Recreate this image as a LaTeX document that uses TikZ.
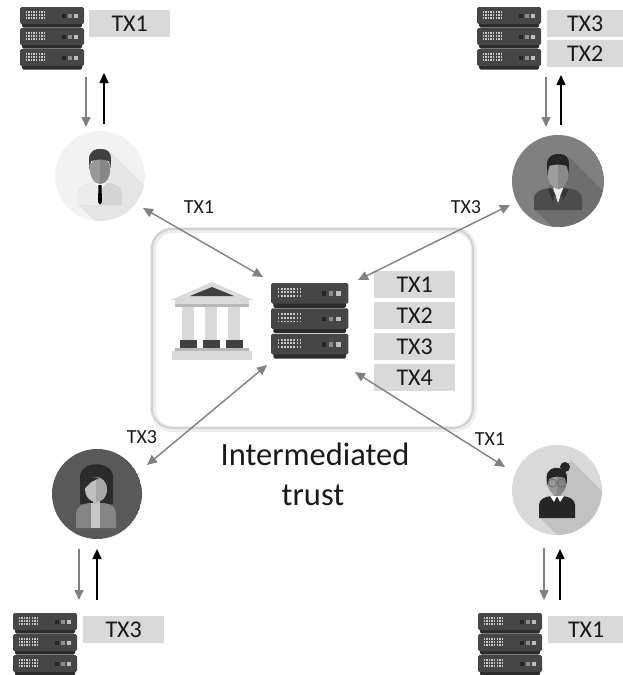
\documentclass[tikz,border=0pt]{standalone}
\usepackage{fontspec}
\setmainfont{Carlito}
\usetikzlibrary{arrows.meta}

\definecolor{boxgray}{HTML}{D9D9D9}
\definecolor{arrgray}{HTML}{808080}
\definecolor{txtcol}{HTML}{1A1A1A}
\definecolor{srvbody}{HTML}{464646}
\definecolor{srvbase}{HTML}{2C2C2C}
\definecolor{srvdot}{HTML}{C8C8C8}
\definecolor{bankLight}{HTML}{D9D9D9}
\definecolor{bankMid}{HTML}{B8B8B8}
\definecolor{bankDark}{HTML}{404040}

\tikzset{
  txbox/.style={fill=boxgray, text=txtcol, minimum width=81pt, minimum height=27pt,
    inner sep=0pt, anchor=north west, font=\fontsize{24}{24}\selectfont},
  txlabel/.style={text=txtcol, inner sep=0pt, font=\fontsize{20}{20}\selectfont},
  bigtext/.style={text=txtcol, inner sep=0pt, anchor=base, font=\fontsize{32.5}{32}\selectfont},
  linkarrow/.style={draw=arrgray, line width=1.4pt,
    {Triangle[length=10pt,width=9pt]}-{Triangle[length=10pt,width=9pt]}},
  downarrow/.style={draw=arrgray, line width=1.4pt, -{Triangle[length=10pt,width=9pt]}},
  uparrow/.style={draw=black, line width=1.4pt, -{Triangle[length=10pt,width=9pt]}},
  server/.pic={
    \foreach \t in {0,21,42}{
      \fill[srvbase, rounded corners=1.5pt] (2,\t+14) rectangle (62,\t+20.5);
      \fill[srvbody, rounded corners=1.5pt] (0,\t) rectangle (64,\t+17);
      \foreach \c in {0,...,7}{
        \foreach \r in {0,1,2}{
          \fill[srvdot] (5.5+\c*2.6,\t+4+\r*3) rectangle ++(1.5,1.6);
        }
      }
      \fill[black!85] (42,\t+7) rectangle ++(3.5,3.5);
      \fill[black!45] (48,\t+7) rectangle ++(3.5,3.5);
      \fill[black!25] (54,\t+7) rectangle ++(3.5,3.5);
    }
  }
}

\begin{document}
\begin{tikzpicture}[x=1pt,y=-1pt]
\useasboundingbox (0,0) rectangle (623,675);

% ---------- central trust box ----------
\draw[line width=6pt, black!7, rounded corners=20pt] (153,230) rectangle (474,429);
\draw[line width=2pt, black!18, rounded corners=20pt] (152,229) rectangle (473,428);

% bank building
\fill[bankLight] (171,300) -- (212,282) -- (253,300) -- cycle;
\fill[bankDark] (190,296) -- (212,287) -- (234,296) -- cycle;
\fill[bankLight] (175,300) rectangle (249,304);
\fill[bankMid] (175,304) rectangle (249,307);
\fill[bankLight] (182,307) rectangle (194,340);
\fill[bankLight] (205,307) rectangle (217,340);
\fill[bankLight] (228,307) rectangle (240,340);
\fill[bankDark] (180,340) rectangle (197,348);
\fill[bankDark] (203,340) rectangle (220,348);
\fill[bankDark] (226,340) rectangle (243,348);
\fill[bankMid] (175,348) rectangle (249,351);
\fill[bankLight] (172,351) rectangle (252,360);

% central ledger server and its transactions
\pic[scale=1.21] at (271,283) {server};
\node[txbox] (c1) at (374,271) {TX1};
\node[txbox] (c2) at (374,302) {TX2};
\node[txbox] (c3) at (374,333) {TX3};
\node[txbox] (c4) at (374,364) {TX4};

\node[bigtext] (trust1) at (315,465) {Intermediated};
\node[bigtext] (trust2) at (313,505) {trust};

% ---------- participant ledgers ----------
\pic at (20,7) {server};
\node[txbox] (tl1) at (89,10) {TX1};

\pic at (477,7) {server};
\node[txbox, minimum width=76pt] (tr1) at (547,10) {TX3};
\node[txbox, minimum width=76pt] (tr2) at (547,40) {TX2};

\pic at (13,613) {server};
\node[txbox] (bl1) at (83,616) {TX3};

\pic at (478,613) {server};
\node[txbox, minimum width=76pt] (br1) at (548,616) {TX1};

% ---------- participants ----------
% top left: man, light
\begin{scope}[shift={(100,176)}]
  \clip (0,0) circle (45pt);
  \fill[black!5] (0,0) circle (45pt);
  \fill[black!10] (11,-24) -- (91,56) -- (58,108) -- (-22,28) -- cycle;
  \fill[black!17] (-22,29) -- (-22,17) .. controls (-22,11) and (-16,8) .. (-8,7)
        -- (8,7) .. controls (16,8) and (22,11) .. (22,17) -- (22,29) -- cycle;
  \fill[black!8] (-22,29) -- (-22,17) .. controls (-22,11) and (-16,8) .. (-8,7) -- (0,7) -- (0,29) -- cycle;
  \fill[black!45] (-4,2) rectangle (4,8);
  \fill[white] (-6,7) -- (0,7) -- (-2,12) -- cycle;
  \fill[white] (6,7) -- (0,7) -- (2,12) -- cycle;
  \fill[black] (-1.5,9) -- (1.5,9) -- (2,26) -- (0,28.5) -- (-2,26) -- cycle;
  \fill[black!40] (0,-6) ellipse (10pt and 14pt);
  \begin{scope}\clip (0,-25) rectangle (12,10);
    \fill[black!47] (0,-6) ellipse (10pt and 14pt);
  \end{scope}
  \fill[black!75] (-10.5,-6) -- (-11,-17) .. controls (-11,-25) and (-4,-28) .. (2,-27)
        .. controls (8,-27) and (11.5,-23) .. (11,-16) -- (10.5,-8) -- (9,-15)
        .. controls (4,-17) and (-4,-17) .. (-9,-15) -- cycle;
\end{scope}

% top right: man, dark
\begin{scope}[shift={(558,181)}]
  \clip (0,0) circle (46pt);
  \fill[black!50] (0,0) circle (46pt);
  \fill[black!57] (11,-24) -- (91,56) -- (58,108) -- (-24,28) -- cycle;
  \fill[black!70] (-24,29) -- (-24,17) .. controls (-24,11) and (-17,8) .. (-8,7)
        -- (8,7) .. controls (17,8) and (24,11) .. (24,17) -- (24,29) -- cycle;
  \fill[black!40] (-4,2) rectangle (4,8);
  \fill[black!8] (-5,7) -- (5,7) -- (0,22) -- cycle;
  \fill[black!80] (-7,7) -- (-2,15) -- (-4,14) -- (-5,20) -- (-10,9) -- cycle;
  \fill[black!80] (7,7) -- (2,15) -- (4,14) -- (5,20) -- (10,9) -- cycle;
  \fill[black!38] (0,-6) ellipse (10pt and 14pt);
  \begin{scope}\clip (0,-25) rectangle (12,10);
    \fill[black!46] (0,-6) ellipse (10pt and 14pt);
  \end{scope}
  \fill[black!85] (-10.5,-6) -- (-11,-17) .. controls (-11,-25) and (-4,-28) .. (2,-27)
        .. controls (8,-27) and (11.5,-23) .. (11,-16) -- (10.5,-8) -- (9,-15)
        .. controls (4,-17) and (-4,-17) .. (-9,-15) -- cycle;
\end{scope}

% bottom left: woman, dark
\begin{scope}[shift={(97,494)}]
  \clip (0,0) circle (45pt);
  \fill[black!65] (0,0) circle (45pt);
  \fill[black!83] (-17,10) -- (-17,-17) .. controls (-17,-34) and (16,-34) .. (16,-17) -- (16,10) -- cycle;
  \fill[black!48] (-21,34) -- (-21,20) .. controls (-21,13) and (-15,10) .. (-8,9)
        -- (7,9) .. controls (14,10) and (19,13) .. (19,20) -- (19,34) -- cycle;
  \fill[black!22] (-6,9) rectangle (3,34);
  \fill[black!25] (-4,2) rectangle (3,10);
  \fill[black!25] (-1,-4.5) ellipse (11pt and 12.5pt);
  \begin{scope}\clip (-1,-20) rectangle (12,10);
    \fill[black!35] (-1,-4.5) ellipse (11pt and 12.5pt);
  \end{scope}
  \fill[black!83] (-12,-6) .. controls (-12,-16) and (-6,-18) .. (2,-16) -- (-6,-12) -- cycle;
\end{scope}

% bottom right: woman, light
\begin{scope}[shift={(557,490)}]
  \clip (0,0) circle (45pt);
  \fill[black!15] (0,0) circle (45pt);
  \fill[black!24] (14,-30) -- (94,50) -- (60,104) -- (-18,27) -- cycle;
  \fill[black!85] (-18,28) -- (-18,15) .. controls (-18,9) and (-12,7) .. (-6,6)
        -- (6,6) .. controls (12,7) and (18,9) .. (18,15) -- (18,28) -- cycle;
  \fill[black!45] (-3.5,0) rectangle (3.5,7);
  \fill[white] (-7,6) -- (0,6) -- (-3,12) -- cycle;
  \fill[white] (7,6) -- (0,6) -- (3,12) -- cycle;
  \fill[black!85] (8,-23) circle (5pt);
  \fill[black!40] (0,-7.5) ellipse (9.5pt and 12.5pt);
  \begin{scope}\clip (0,-22) rectangle (12,8);
    \fill[black!48] (0,-7.5) ellipse (9.5pt and 12.5pt);
  \end{scope}
  \fill[black!85] (-10,-4) -- (-10.5,-12) .. controls (-10.5,-21) and (-3,-23) .. (1,-22)
        .. controls (7,-22) and (10.5,-18) .. (10,-11) -- (9.5,-6) -- (8,-12)
        .. controls (3,-14) and (-4,-14) .. (-8,-11) -- cycle;
  \draw[black!58, line width=0.7pt] (-4.5,-7) circle (4pt) (4.5,-7) circle (4pt) (-0.5,-7) -- (0.5,-7);
\end{scope}

% ---------- connector end points ----------
\coordinate (tlA) at (143,208);  \coordinate (tlB) at (263,277);
\coordinate (trA) at (510,205);  \coordinate (trB) at (358,280);
\coordinate (blA) at (147,465);  \coordinate (blB) at (267,365);
\coordinate (brA) at (505,467);  \coordinate (brB) at (355,372);

\draw[linkarrow] (tlA) -- (tlB);
\draw[linkarrow] (trA) -- (trB);
\draw[linkarrow] (blA) -- (blB);
\draw[linkarrow] (brA) -- (brB);

\node[txlabel] (lbl1) at (199,207) {TX1};
\node[txlabel] (lbl2) at (466,207) {TX3};
\node[txlabel] (lbl3) at (142,437) {TX3};
\node[txlabel] (lbl4) at (490,439) {TX1};

% sync arrows between participant and ledger
\coordinate (tlD1) at (86,77);   \coordinate (tlD2) at (86,127);
\coordinate (tlU1) at (104,124); \coordinate (tlU2) at (104,73);
\coordinate (trD1) at (546,77);  \coordinate (trD2) at (546,127);
\coordinate (trU1) at (561,125); \coordinate (trU2) at (561,75);
\coordinate (blD1) at (79,549);  \coordinate (blD2) at (79,600);
\coordinate (blU1) at (97,600);  \coordinate (blU2) at (97,549);
\coordinate (brD1) at (544,548); \coordinate (brD2) at (544,600);
\coordinate (brU1) at (560,600); \coordinate (brU2) at (560,549);

\draw[downarrow] (tlD1) -- (tlD2);  \draw[uparrow] (tlU1) -- (tlU2);
\draw[downarrow] (trD1) -- (trD2);  \draw[uparrow] (trU1) -- (trU2);
\draw[downarrow] (blD1) -- (blD2);  \draw[uparrow] (blU1) -- (blU2);
\draw[downarrow] (brD1) -- (brD2);  \draw[uparrow] (brU1) -- (brU2);
\end{tikzpicture}
\end{document}
